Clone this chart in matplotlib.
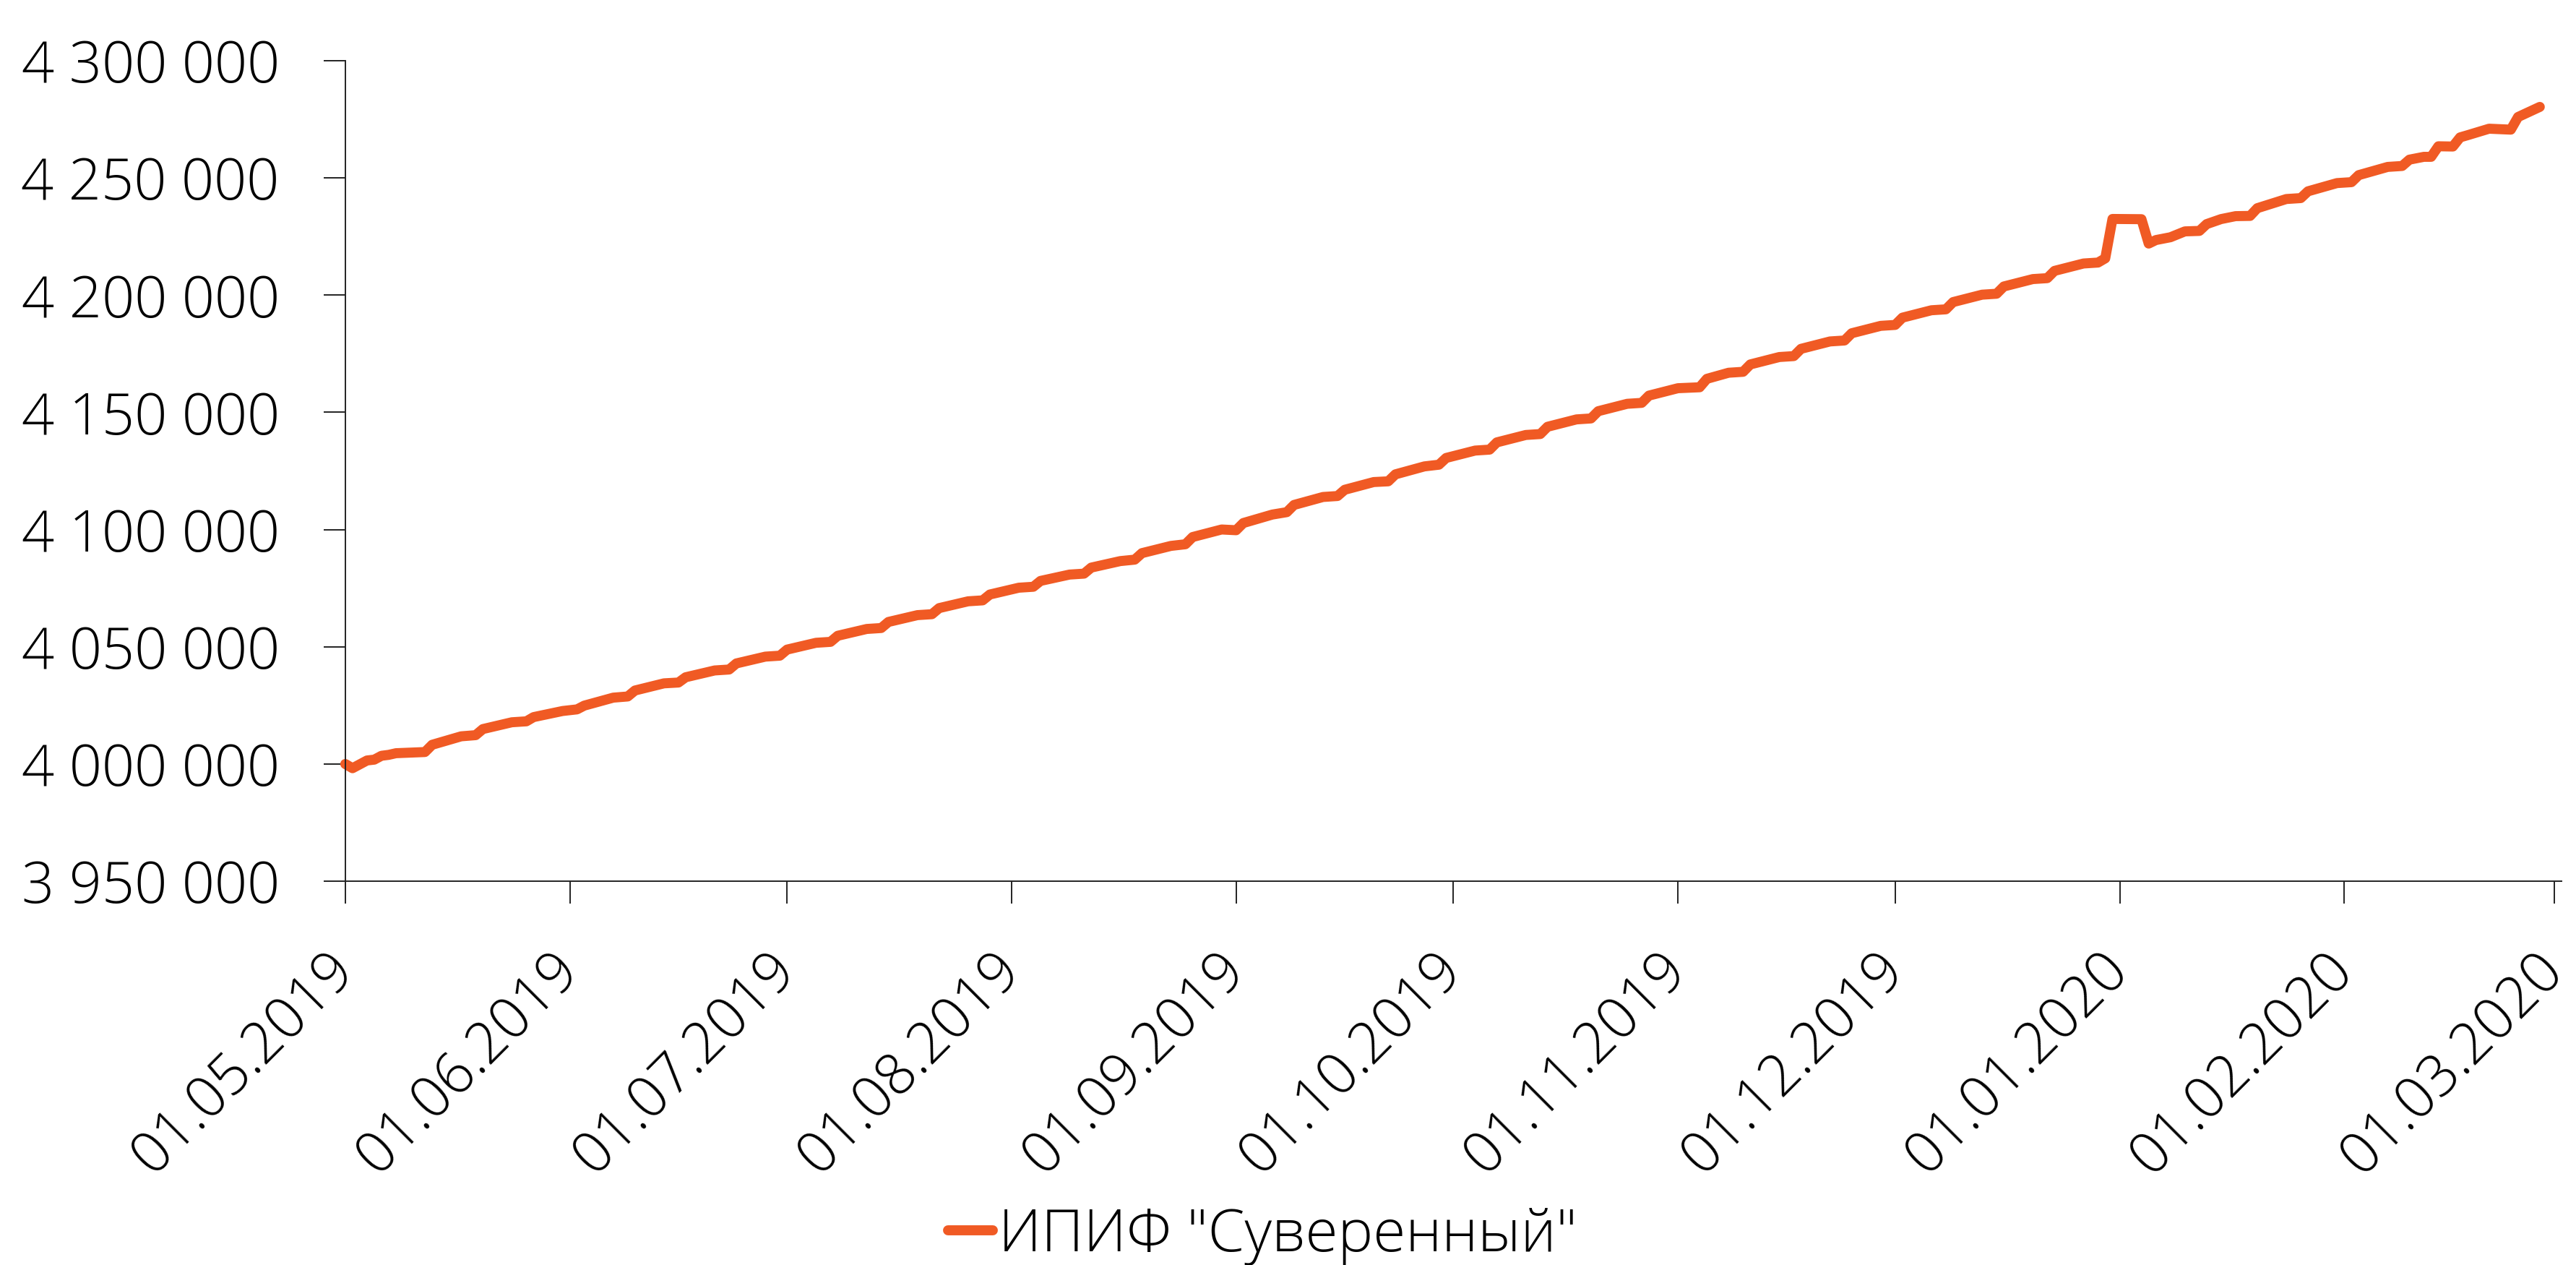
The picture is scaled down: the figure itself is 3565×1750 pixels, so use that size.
import matplotlib
matplotlib.use("Agg")
import matplotlib.pyplot as plt
import pandas as pd

# NAV series, breakpoints (one row per week: Monday, Friday, Sunday)
dates = [
    "2019-05-01", "2019-05-02", "2019-05-04", "2019-05-05", "2019-05-06", "2019-05-07", "2019-05-08", "2019-05-12",
    "2019-05-13", "2019-05-17", "2019-05-19",
    "2019-05-20", "2019-05-24", "2019-05-26",
    "2019-05-27", "2019-05-31", "2019-06-02",
    "2019-06-03", "2019-06-07", "2019-06-09",
    "2019-06-10", "2019-06-14", "2019-06-16",
    "2019-06-17", "2019-06-21", "2019-06-23",
    "2019-06-24", "2019-06-28", "2019-06-30",
    "2019-07-01", "2019-07-05", "2019-07-07",
    "2019-07-08", "2019-07-12", "2019-07-14",
    "2019-07-15", "2019-07-19", "2019-07-21",
    "2019-07-22", "2019-07-26", "2019-07-28",
    "2019-07-29", "2019-08-02", "2019-08-04",
    "2019-08-05", "2019-08-09", "2019-08-11",
    "2019-08-12", "2019-08-16", "2019-08-18",
    "2019-08-19", "2019-08-23", "2019-08-25",
    "2019-08-26", "2019-08-30", "2019-09-01",
    "2019-09-02", "2019-09-06", "2019-09-08",
    "2019-09-09", "2019-09-13", "2019-09-15",
    "2019-09-16", "2019-09-20", "2019-09-22",
    "2019-09-23", "2019-09-27", "2019-09-29",
    "2019-09-30", "2019-10-04", "2019-10-06",
    "2019-10-07", "2019-10-11", "2019-10-13",
    "2019-10-14", "2019-10-18", "2019-10-20",
    "2019-10-21", "2019-10-25", "2019-10-27",
    "2019-10-28", "2019-11-01", "2019-11-04",
    "2019-11-05", "2019-11-08", "2019-11-10",
    "2019-11-11", "2019-11-15", "2019-11-17",
    "2019-11-18", "2019-11-22", "2019-11-24",
    "2019-11-25", "2019-11-29", "2019-12-01",
    "2019-12-02", "2019-12-06", "2019-12-08",
    "2019-12-09", "2019-12-13", "2019-12-15",
    "2019-12-16", "2019-12-20", "2019-12-22",
    "2019-12-23", "2019-12-27", "2019-12-29",
    "2019-12-30", "2019-12-31", "2020-01-04", "2020-01-05", "2020-01-06", "2020-01-08", "2020-01-10", "2020-01-12",
    "2020-01-13", "2020-01-15", "2020-01-17", "2020-01-19",
    "2020-01-20", "2020-01-24", "2020-01-26",
    "2020-01-27", "2020-01-31", "2020-02-02",
    "2020-02-03", "2020-02-07", "2020-02-09",
    "2020-02-10", "2020-02-12", "2020-02-13", "2020-02-14", "2020-02-16",
    "2020-02-17", "2020-02-18", "2020-02-21", "2020-02-24",
    "2020-02-25", "2020-02-28",
]
nav = [
    4000000, 3998200, 4001500, 4001850, 4003500, 4003900, 4004600, 4005100,
    4008200, 4011800, 4012300,
    4014900, 4017800, 4018200,
    4020000, 4022600, 4023300,
    4024900, 4028300, 4028800,
    4031350, 4034400, 4034750,
    4037000, 4039900, 4040300,
    4042900, 4045800, 4046200,
    4048800, 4051700, 4052100,
    4054700, 4057600, 4058000,
    4060600, 4063500, 4063900,
    4066500, 4069400, 4069800,
    4072300, 4075200, 4075600,
    4078100, 4080800, 4081200,
    4083780, 4086550, 4087170,
    4089950, 4093030, 4093740,
    4096820, 4100030, 4099720,
    4102800, 4106400, 4107430,
    4110510, 4113900, 4114310,
    4116980, 4120270, 4120580,
    4123560, 4126950, 4127670,
    4130550, 4133700, 4134100,
    4137200, 4140350, 4140750,
    4143850, 4147000, 4147400,
    4150500, 4153650, 4154050,
    4157150, 4160300, 4160700,
    4164300, 4166900, 4167300,
    4170450, 4173600, 4174000,
    4177100, 4180250, 4180650,
    4183750, 4186900, 4187300,
    4190400, 4193550, 4193950,
    4197050, 4200200, 4200600,
    4203700, 4206850, 4207250,
    4210350, 4213500, 4213900,
    4215700, 4232500, 4232400, 4222000, 4223500, 4224700, 4227200, 4227400,
    4230300, 4232450, 4233700, 4233800,
    4237100, 4241000, 4241400,
    4244300, 4247800, 4248200,
    4251200, 4254700, 4255100,
    4257800, 4259000, 4259000, 4263500, 4263400,
    4267300, 4268200, 4271000, 4270600,
    4276000, 4280300,
]

tick_dates = ["2019-05-01", "2019-06-01", "2019-07-01", "2019-08-01", "2019-09-01", "2019-10-01",
              "2019-11-01", "2019-12-01", "2020-01-01", "2020-02-01", "2020-03-01"]
y_ticks = [3950000, 4000000, 4050000, 4100000, 4150000, 4200000, 4250000, 4300000]
series_name = 'ИПИФ "Суверенный"'

plt.rcParams['font.family'] = ['Open Sans', 'DejaVu Sans']
FS = 57

fig = plt.figure(figsize=(35.66, 17.5), dpi=100)
ax = fig.add_axes([0.1340, 0.3034, 0.8601, 0.6486])

x = pd.to_datetime(dates)
ax.plot(x, nav, color="#F05A24", lw=10, solid_capstyle="round", solid_joinstyle="round",
        label=series_name, clip_on=False)

ax.set_xlim(pd.Timestamp("2019-05-01"), pd.Timestamp("2020-03-02"))
ax.set_ylim(3950000, 4300000)

tx = pd.to_datetime(tick_dates)
ax.set_xticks(tx)
ax.set_xticklabels([d.strftime("%d.%m.%Y") for d in tx], rotation=45, ha="right", va="center",
                   rotation_mode="anchor", fontsize=FS, fontweight="light")
ax.set_yticks(y_ticks)
ax.set_yticklabels([f"{v:,}".replace(",", " ") for v in y_ticks], fontsize=FS, fontweight="light")

for s in ["top", "right"]:
    ax.spines[s].set_visible(False)
for s in ["left", "bottom"]:
    ax.spines[s].set_linewidth(1.4)
    ax.spines[s].set_color("#222222")
ax.tick_params(axis="y", direction="out", length=21.6, width=1.4, pad=44, color="#222222")
ax.tick_params(axis="x", direction="out", length=22, width=1.4, pad=58, color="#222222")

fig.legend(loc="center", bbox_to_anchor=(0.490, 0.023), frameon=False,
           handlelength=0.75, handletextpad=0.1, borderpad=0, prop={"size": 59, "weight": "light"})

fig.savefig("out.png", dpi=100)
